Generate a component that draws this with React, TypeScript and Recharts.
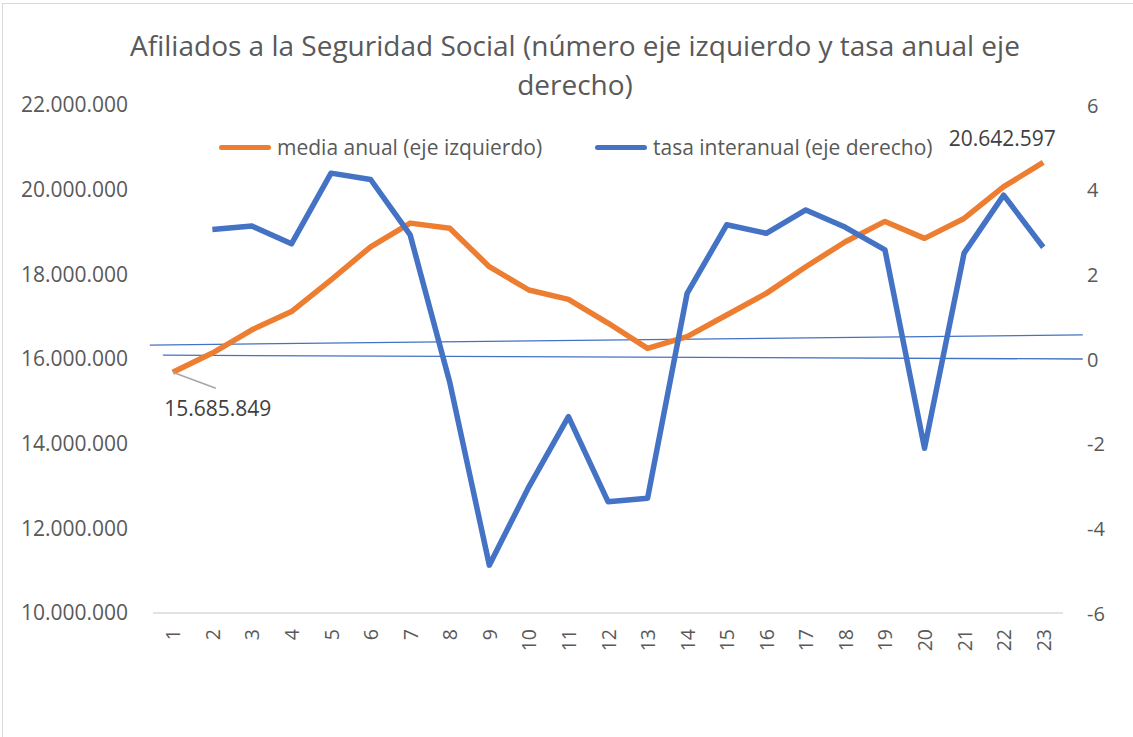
import {
  LineChart,
  Line,
  XAxis,
  YAxis,
  ReferenceLine,
  LabelList,
} from 'recharts'

const categorias = [1, 2, 3, 4, 5, 6, 7, 8, 9, 10, 11, 12, 13, 14, 15, 16, 17, 18, 19, 20, 21, 22, 23]

// media anual de afiliados (eje izquierdo)
const mediaAnual = [
  15685849, 16140000, 16690000, 17120000, 17870000, 18650000, 19210000, 19090000,
  18180000, 17630000, 17410000, 16850000, 16250000, 16530000, 17040000, 17550000,
  18180000, 18770000, 19250000, 18850000, 19320000, 20070000, 20642597,
]

// tasa interanual (eje derecho)
const tasaInteranual = [
  null, 3.06, 3.14, 2.72, 4.39, 4.24, 2.93, -0.55, -4.87, -3.02, -1.36, -3.37,
  -3.29, 1.55, 3.17, 2.97, 3.52, 3.11, 2.58, -2.11, 2.5, 3.87, 2.64,
]

const ticksIzq = [10000000, 12000000, 14000000, 16000000, 18000000, 20000000, 22000000]
const ticksDer = [-6, -4, -2, 0, 2, 4, 6]

// lineas finas de tendencia (eje derecho)
const tendenciaA = [
  { x: 0.42, y: 0.33 },
  { x: 24, y: 0.57 },
]
const tendenciaB = [
  { x: 0.75, y: 0.09 },
  { x: 24, y: 0.0 },
]

const NARANJA = '#ED7D31'
const AZUL = '#4472C4'
const GRIS = '#595959'
const FUENTE = "'Open Sans', sans-serif"

const data = categorias.map((c, i) => ({
  cat: c,
  media: mediaAnual[i],
  tasa: tasaInteranual[i],
}))

const miles = (n: number) => String(n).replace(/\B(?=(\d{3})+(?!\d))/g, '.')

const XTick = (props: any) => {
  const { x, y, payload } = props
  return (
    <text
      x={x}
      y={y}
      transform={`rotate(-90 ${x} ${y})`}
      textAnchor="end"
      dominantBaseline="central"
      fontSize={19.5}
      fill={GRIS}
      fontFamily={FUENTE}
    >
      {payload.value}
    </text>
  )
}

const DerTick = (props: any) => {
  const { x, y, payload } = props
  return (
    <text x={x} y={y} textAnchor="start" dominantBaseline="central" fontSize={20} fill={GRIS} fontFamily={FUENTE}>
      {payload.value}
    </text>
  )
}

const EtiquetaMedia = (props: any) => {
  const { x, y, index } = props
  if (index === 0) {
    return (
      <g>
        <line x1={x} y1={y} x2={x + 43} y2={y + 16} stroke="#a6a6a6" strokeWidth={1.5} />
        <text x={x + 45} y={y + 36} textAnchor="middle" dominantBaseline="central" fontSize={21} fill="#404040" fontFamily={FUENTE}>
          {miles(mediaAnual[0])}
        </text>
      </g>
    )
  }
  if (index === mediaAnual.length - 1) {
    return (
      <text x={x - 41} y={y - 24} textAnchor="middle" dominantBaseline="central" fontSize={21} fill="#404040" fontFamily={FUENTE}>
        {miles(mediaAnual[index])}
      </text>
    )
  }
  return null
}

function Leyenda() {
  const item = (color: string, texto: string, left: number) => (
    <div style={{ position: 'absolute', left, top: 0, height: 28, display: 'flex', alignItems: 'center', whiteSpace: 'nowrap' }}>
      <div style={{ width: 52, height: 5, borderRadius: 3, background: color, marginRight: 6 }} />
      <span style={{ fontSize: 21, color: GRIS, fontFamily: FUENTE }}>{texto}</span>
    </div>
  )
  return (
    <div style={{ position: 'absolute', left: 219, top: 133, height: 28 }}>
      {item(NARANJA, 'media anual (eje izquierdo)', 0)}
      {item(AZUL, 'tasa interanual (eje derecho)', 376)}
    </div>
  )
}

export default function App() {
  return (
    <div
      style={{
        position: 'absolute',
        left: 0,
        top: 0,
        width: 1133,
        height: 737,
        overflow: 'hidden',
        background: '#fff',
        fontFamily: FUENTE,
      }}
    >
      <div style={{ position: 'absolute', left: 2, top: 3, width: 1160, height: 800, border: '1px solid #d9d9d9' }} />
      <div
        style={{
          position: 'absolute',
          left: 0,
          top: 26,
          width: 1150,
          textAlign: 'center',
          fontSize: 28,
          lineHeight: '39px',
          color: GRIS,
          zIndex: 2,
        }}
      >
        Afiliados a la Seguridad Social (número eje izquierdo y tasa anual eje
        <br />
        derecho)
      </div>
      <div style={{ position: 'absolute', left: 0, top: 0 }}>
        <LineChart width={1133} height={737} data={data} margin={{ top: 105, right: 0, bottom: 0, left: 0 }}>
          <XAxis
            dataKey="cat"
            type="number"
            domain={[0.5, 23.5]}
            ticks={categorias}
            interval={0}
            allowDataOverflow
            height={124}
            tickSize={0}
            tickMargin={16}
            tickLine={false}
            axisLine={{ stroke: '#d9d9d9', strokeWidth: 1.5 }}
            tick={<XTick />}
          />
          <YAxis
            yAxisId="izq"
            orientation="left"
            width={153}
            domain={[10000000, 22000000]}
            ticks={ticksIzq}
            tickFormatter={miles}
            axisLine={false}
            tickLine={false}
            tickSize={0}
            tickMargin={25}
            tick={{ fontSize: 21, fill: GRIS, fontFamily: FUENTE }}
          />
          <YAxis
            yAxisId="der"
            orientation="right"
            width={70}
            domain={[-6, 6]}
            ticks={ticksDer}
            axisLine={false}
            tickLine={false}
            tickSize={0}
            tickMargin={24}
            tick={<DerTick />}
          />
          <ReferenceLine
            yAxisId="der"
            segment={tendenciaA}
            ifOverflow="visible"
            stroke={AZUL}
            strokeWidth={1.3}
          />
          <ReferenceLine
            yAxisId="der"
            segment={tendenciaB}
            ifOverflow="visible"
            stroke={AZUL}
            strokeWidth={1.3}
          />
          <Line
            yAxisId="izq"
            dataKey="media"
            stroke={NARANJA}
            strokeWidth={5.5}
            dot={false}
            strokeLinejoin="round"
            isAnimationActive={false}
          >
            <LabelList dataKey="media" content={<EtiquetaMedia />} />
          </Line>
          <Line
            yAxisId="der"
            dataKey="tasa"
            stroke={AZUL}
            strokeWidth={5.5}
            dot={false}
            strokeLinejoin="round"
            isAnimationActive={false}
          />
        </LineChart>
      </div>
      <Leyenda />
    </div>
  )
}
